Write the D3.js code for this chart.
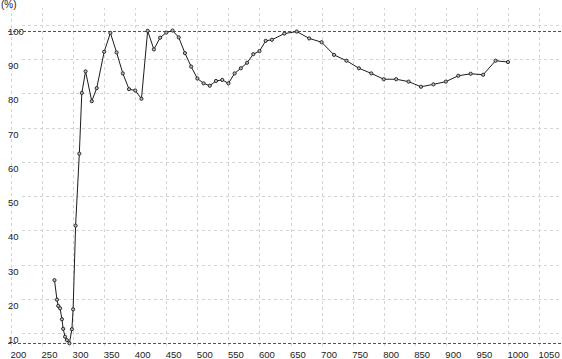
<!DOCTYPE html>
<html>
<head>
<meta charset="utf-8">
<script src="https://cdn.jsdelivr.net/npm/d3@7"></script>
<style>
  html, body { margin: 0; padding: 0; background: #fff; overflow: hidden; }
  svg { display: block; }
  text { font-family: "Liberation Sans", Arial, sans-serif; fill: #222; }
</style>
</head>
<body>
<script>
// Wavelength (nm) and transmittance (%)
const wavelength = [270, 274, 276, 279, 282, 284, 287, 290, 294, 298, 300, 304, 310, 314, 320,
  330, 338, 350, 360, 370, 380, 390, 400, 410, 420, 430, 440, 450, 460, 470, 480, 490, 500,
  510, 520, 530, 540, 550, 560, 570, 580, 590, 600, 610, 620, 640, 660, 680, 700, 720, 740,
  760, 780, 800, 820, 840, 860, 880, 900, 920, 940, 960, 980, 1000];
const percent = [25.5, 19.8, 18.0, 17.3, 14.1, 11.3, 9.0, 8.0, 7.1, 11.2, 17.0, 41.4, 62.4, 80.1, 86.4,
  77.7, 81.5, 92.1, 97.6, 91.9, 85.8, 81.2, 80.8, 78.4, 98.2, 92.8, 96.2, 97.7, 98.3, 96.3, 91.7, 87.8, 84.3,
  82.9, 82.2, 83.6, 83.9, 82.9, 85.8, 87.3, 88.9, 91.4, 92.3, 95.3, 95.6, 97.4, 98.0, 96.0, 94.9, 91.2, 89.5,
  87.3, 85.8, 84.1, 84.1, 83.4, 81.9, 82.6, 83.4, 85.1, 85.7, 85.4, 89.5, 89.1];
const xTicks = [200, 250, 300, 350, 400, 450, 500, 550, 600, 650, 700, 750, 800, 850, 900, 950, 1000, 1050];
const yTicks = [10, 20, 30, 40, 50, 60, 70, 80, 90, 100];
const unitLabel = "(%)";

const W = 562, H = 359;
const plotTop = 8, plotBottom = 346, gridLeft = 22, plotRight = W;

const x = d3.scaleLinear().domain([200, 1100]).range([11, 570.1]);
const y = d3.scaleLinear().domain([0, 100]).range([367.6, 24.7]);

const svg = d3.select("body").append("svg").attr("width", W).attr("height", H);

// vertical grid + x labels
const gx = svg.append("g")
  .attr("transform", `translate(0,${plotBottom})`)
  .call(d3.axisBottom(x).tickValues(xTicks).tickSize(-(plotBottom - plotTop)).tickSizeOuter(0).tickFormat(d3.format("d")));
gx.select(".domain").remove();
gx.selectAll(".tick line")
  .attr("stroke", "#d4d4d4").attr("stroke-dasharray", "3,3").attr("shape-rendering", "crispEdges");
gx.selectAll(".tick text")
  .attr("text-anchor", "start").attr("x", -1).attr("y", 12).attr("dy", 0)
  .attr("font-size", "9.5px").attr("fill", "#222");

// horizontal grid + y labels
const gy = svg.append("g")
  .attr("transform", `translate(${gridLeft},0)`)
  .call(d3.axisLeft(y).tickValues(yTicks).tickSize(-(plotRight - gridLeft)).tickSizeOuter(0).tickFormat(d3.format("d")));
gy.select(".domain").remove();
gy.selectAll(".tick line")
  .attr("stroke", "#d4d4d4").attr("stroke-dasharray", "3,3").attr("shape-rendering", "crispEdges");
gy.selectAll(".tick text")
  .attr("text-anchor", "start").attr("x", 8 - gridLeft).attr("y", 9.5).attr("dy", 0)
  .attr("font-size", "9.5px").attr("fill", "#222");

// unit label at the top-left
svg.append("text").attr("x", 1).attr("y", 8).attr("font-size", "10px").text(unitLabel);

// red reference lines at the maximum and minimum
const refs = [d3.max(percent), d3.min(percent)];
svg.selectAll("line.ref").data(refs).join("line")
  .attr("class", "ref")
  .attr("x1", 8).attr("x2", W)
  .attr("y1", d => Math.round(y(d)) + 0.5).attr("y2", d => Math.round(y(d)) + 0.5)
  .attr("stroke", "#e8121a").attr("stroke-width", 1).attr("stroke-dasharray", "3,2");

// data line
const pts = wavelength.map((w, i) => [w, percent[i]]);
svg.append("path")
  .datum(pts)
  .attr("fill", "none").attr("stroke", "#1c1c1c").attr("stroke-width", 1)
  .attr("d", d3.line().x(d => x(d[0])).y(d => y(d[1])));

svg.selectAll("circle.pt").data(pts).join("circle")
  .attr("class", "pt")
  .attr("cx", d => x(d[0])).attr("cy", d => y(d[1])).attr("r", 1.6)
  .attr("fill", "#bbb").attr("stroke", "#1c1c1c").attr("stroke-width", 0.9);
</script>
</body>
</html>
